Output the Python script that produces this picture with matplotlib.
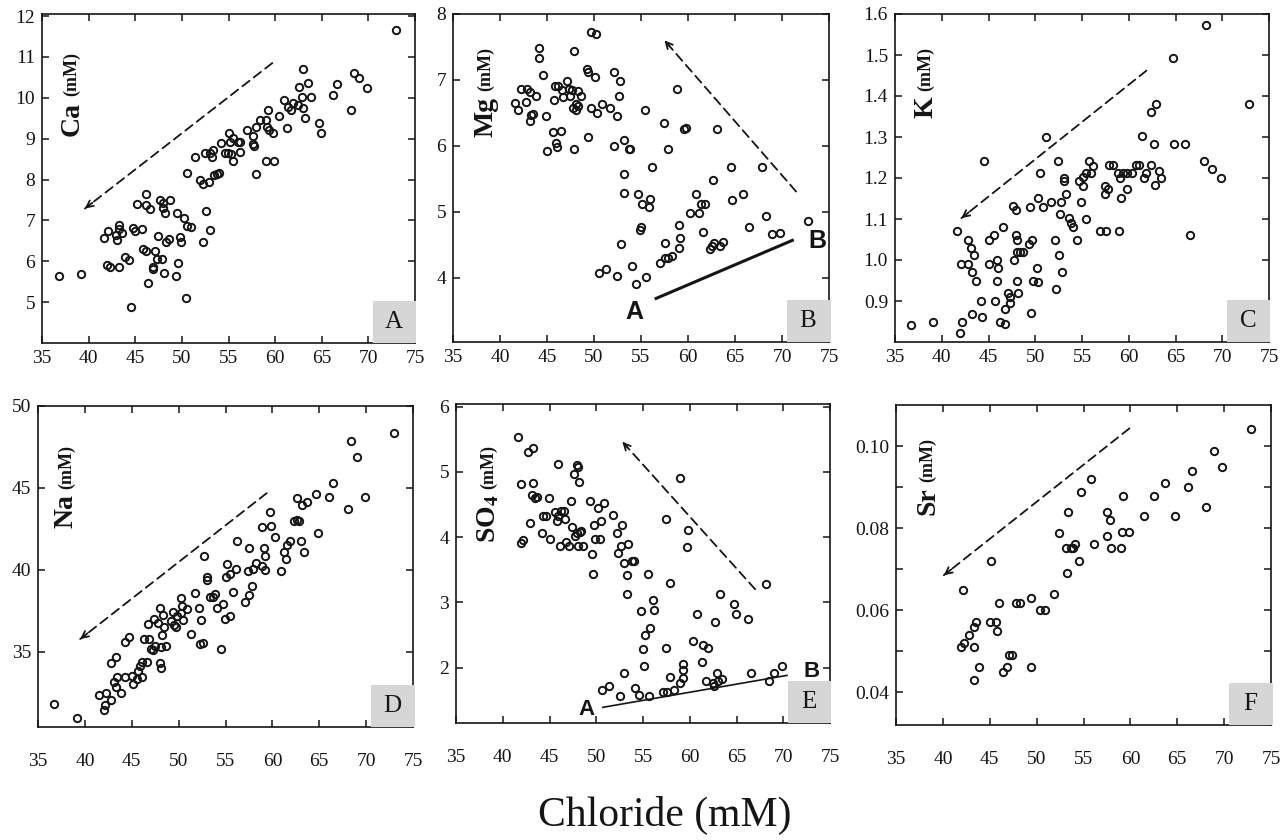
import matplotlib
matplotlib.use("Agg")
import matplotlib.pyplot as plt
from matplotlib.patches import Rectangle

plt.rcParams['font.family'] = ['Liberation Serif', 'DejaVu Serif']
plt.rcParams['mathtext.fontset'] = 'stix'

# ---------------- data ----------------
ca_cl = [36.8, 39.2, 41.7, 42.1, 42.9, 43.0, 43.3, 43.3, 43.6, 42.0, 42.3, 43.3, 43.9, 44.3, 44.5,
         44.75, 45.0, 45.2, 45.7, 45.8, 46.1, 46.2, 46.1, 46.6, 46.4, 46.9, 46.9, 47.1, 47.4, 47.3,
         47.9, 47.7, 48.0, 48.0, 48.2, 48.75, 48.1, 48.3, 48.6, 49.5, 49.6, 49.4, 49.8, 49.9, 50.25,
         50.5, 51.0, 50.4, 50.5, 51.4, 51.9, 52.25, 52.9, 52.3, 52.6, 53.0, 52.5, 53.0, 53.2, 53.3,
         53.4, 53.8, 54.0, 54.2, 54.6, 54.9, 55.0, 55.2, 55.25, 55.5, 55.5, 56.0, 56.2, 56.25, 57.0,
         57.6, 57.6, 57.7, 58.0, 58.0, 58.4, 59.0, 59.1, 59.2, 59.3, 59.0, 59.9, 59.8, 60.4, 60.9,
         61.25, 61.4, 61.7, 61.9, 62.4, 62.6, 62.85, 63.0, 63.0, 63.25, 63.5, 63.8, 64.75, 64.9, 66.2,
         66.6, 68.1, 68.5, 69.0, 69.9, 73.0]
ca = [5.64, 5.69, 6.56, 6.73, 6.65, 6.51, 6.89, 6.78, 6.69, 5.91, 5.87, 5.87, 6.10, 6.02, 4.88,
      6.81, 6.75, 7.40, 6.80, 6.30, 6.24, 7.64, 7.38, 7.27, 5.46, 5.87, 5.81, 6.24, 6.62, 6.05,
      6.05, 7.50, 7.42, 7.30, 7.17, 7.50, 5.71, 6.48, 6.54, 7.19, 5.95, 5.63, 6.59, 6.46, 7.05,
      6.87, 6.83, 5.10, 8.17, 8.56, 7.99, 7.88, 7.95, 6.48, 7.22, 6.77, 8.66, 8.66, 8.56, 8.72,
      8.10, 8.14, 8.15, 8.89, 8.64, 8.64, 9.15, 8.93, 8.63, 8.46, 9.01, 8.93, 8.93, 8.68, 9.21,
      9.07, 8.87, 8.82, 9.29, 8.14, 9.46, 9.46, 9.29, 9.70, 9.21, 8.46, 8.46, 9.13, 9.55, 9.95,
      9.25, 9.77, 9.70, 9.88, 9.82, 10.26, 10.03, 9.76, 10.70, 9.50, 10.35, 10.01, 9.38, 9.13, 10.07,
      10.33, 9.70, 10.61, 10.49, 10.25, 11.67]

mg_cl = [41.6, 41.9, 42.2, 42.8, 42.9, 43.2, 43.2, 43.3, 43.5, 43.8, 44.2, 44.15, 44.6, 44.9, 45.0,
         45.6, 45.7, 45.9, 46.0, 46.1, 46.45, 46.2, 46.6, 46.7, 47.1, 47.3, 47.4, 47.7, 47.8, 47.9,
         47.9, 48.1, 48.1, 48.3, 48.3, 48.65, 49.3, 49.4, 49.4, 49.7, 50.2, 49.7, 50.1, 50.3, 50.85,
         50.5, 51.3, 51.7, 52.1, 52.45, 52.7, 52.8, 52.1, 52.45, 52.9, 53.2, 53.15, 53.15, 53.7, 53.8,
         54.0, 54.5, 54.7, 55.1, 54.9, 55.0, 55.4, 55.5, 55.8, 56.0, 56.2, 57.0, 57.4, 57.5, 57.5,
         57.9, 57.9, 58.3, 58.8, 59.0, 59.1, 59.0, 59.6, 59.75, 60.2, 60.8, 61.2, 61.35, 61.8, 61.6,
         62.3, 62.6, 62.7, 62.8, 63.1, 63.4, 63.7, 64.6, 64.7, 65.9, 66.5, 67.9, 68.3, 68.9, 69.75,
         72.8]
mg = [6.65, 6.54, 6.87, 6.67, 6.87, 6.82, 6.38, 6.47, 6.49, 6.75, 7.48, 7.33, 7.07, 6.45, 5.93,
      6.21, 6.70, 6.91, 6.05, 5.99, 6.23, 6.91, 6.85, 6.74, 6.99, 6.86, 6.75, 6.85, 6.57, 7.44,
      5.95, 6.64, 6.54, 6.84, 6.60, 6.75, 7.17, 7.12, 6.14, 7.73, 7.70, 6.58, 7.04, 6.50, 6.63,
      4.08, 4.13, 6.58, 7.12, 6.45, 6.76, 6.99, 6.00, 4.03, 4.52, 6.09, 5.58, 5.29, 5.95, 5.95,
      4.18, 3.91, 5.27, 5.12, 4.73, 4.77, 6.54, 4.01, 5.07, 5.19, 5.68, 4.23, 6.35, 4.30, 4.53,
      5.95, 4.30, 4.33, 6.87, 4.46, 4.61, 4.81, 6.25, 6.28, 4.99, 5.27, 4.99, 5.12, 5.12, 4.70,
      4.44, 4.48, 5.48, 4.53, 6.25, 4.48, 4.54, 5.68, 5.18, 5.27, 4.77, 5.68, 4.94, 4.67, 4.68,
      4.87]

k_cl = [36.7, 39.1, 41.6, 42.0, 42.1, 42.2, 42.8, 42.8, 43.1, 43.2, 43.2, 43.45, 43.7, 44.2, 44.3,
        44.55, 45.0, 45.05, 45.6, 45.7, 45.9, 46.05, 45.9, 46.2, 46.5, 46.8, 46.8, 47.05, 47.3, 47.3,
        47.6, 47.7, 47.9, 47.9, 48.0, 48.1, 48.2, 48.0, 48.4, 48.7, 49.3, 49.4, 49.5, 49.7, 49.8,
        50.15, 50.3, 50.3, 50.5, 50.8, 51.2, 51.7, 52.1, 52.2, 52.4, 52.5, 52.7, 52.8, 52.9, 53.1,
        53.1, 53.25, 53.6, 53.8, 54.0, 54.5, 54.7, 54.9, 55.1, 55.1, 55.4, 55.4, 55.8, 56.0, 56.2,
        56.9, 57.5, 57.5, 57.6, 57.8, 57.9, 58.35, 58.8, 58.95, 59.1, 59.2, 59.35, 59.8, 59.8, 60.3,
        60.8, 61.1, 61.4, 61.6, 61.8, 62.4, 62.4, 62.7, 62.8, 62.9, 63.2, 63.4, 64.7, 64.8, 66.0,
        66.55, 68.05, 68.3, 68.9, 69.9, 72.9]
k = [0.842, 0.849, 1.070, 0.821, 0.991, 0.849, 0.991, 1.050, 1.030, 0.971, 0.869, 1.011, 0.950, 0.900, 0.860,
     1.241, 0.991, 1.050, 1.061, 0.900, 1.001, 0.981, 0.950, 0.849, 1.081, 0.880, 0.845, 0.920, 0.910, 0.896,
     1.131, 1.001, 1.121, 1.062, 0.950, 1.050, 0.920, 1.019, 1.019, 1.019, 1.038, 1.130, 0.870, 1.050, 0.950,
     0.981, 0.946, 1.151, 1.211, 1.130, 1.300, 1.141, 1.050, 0.930, 1.241, 1.011, 1.111, 1.141, 0.971, 1.200,
     1.192, 1.162, 1.103, 1.091, 1.080, 1.050, 1.192, 1.141, 1.181, 1.203, 1.101, 1.211, 1.242, 1.211, 1.230,
     1.070, 1.181, 1.162, 1.070, 1.172, 1.231, 1.231, 1.211, 1.070, 1.200, 1.151, 1.211, 1.172, 1.211, 1.211,
     1.231, 1.231, 1.302, 1.200, 1.212, 1.231, 1.362, 1.284, 1.184, 1.381, 1.216, 1.200, 1.492, 1.284, 1.284,
     1.061, 1.242, 1.572, 1.222, 1.200, 1.381]

na_cl = [36.7, 39.2, 41.55, 42.0, 42.1, 42.3, 42.8, 42.8, 43.3, 43.15, 43.3, 43.4, 43.8, 44.25, 44.3,
         44.7, 45.0, 45.1, 45.6, 45.7, 45.9, 46.1, 46.1, 46.3, 46.6, 46.8, 46.7, 47.1, 47.3, 47.4,
         47.5, 47.8, 48.0, 48.0, 48.1, 48.2, 48.35, 48.4, 48.1, 48.7, 49.2, 49.4, 49.5, 49.7, 49.8,
         50.2, 50.3, 50.4, 50.5, 50.9, 51.3, 51.7, 52.15, 52.3, 52.4, 52.6, 52.75, 53.05, 53.05, 53.3,
         53.7, 53.9, 54.1, 54.55, 54.75, 54.9, 55.0, 55.2, 55.5, 55.5, 55.8, 56.1, 56.2, 57.1, 57.4,
         57.5, 57.5, 57.85, 57.95, 58.3, 58.9, 58.9, 59.1, 59.2, 59.2, 59.7, 59.9, 60.3, 60.9, 61.2,
         61.4, 61.6, 61.9, 62.3, 62.6, 62.8, 62.65, 63.0, 63.2, 63.4, 63.7, 64.7, 64.9, 66.0, 66.5,
         68.1, 68.35, 69.0, 69.9, 72.97]
na = [31.83, 30.98, 32.34, 31.43, 31.73, 32.48, 32.04, 34.32, 34.68, 33.16, 32.85, 33.46, 32.48, 35.60, 33.46,
      35.87, 33.50, 33.05, 33.36, 33.83, 34.11, 34.38, 33.46, 35.80, 34.38, 35.80, 36.66, 35.19, 35.13, 36.97,
      35.34, 36.72, 37.64, 34.32, 34.03, 36.01, 37.23, 36.52, 35.30, 35.34, 36.88, 37.43, 36.62, 36.52, 37.17,
      37.37, 38.25, 37.78, 36.92, 37.58, 36.07, 38.59, 37.64, 35.46, 36.92, 35.50, 40.86, 39.53, 39.37, 38.35,
      38.31, 38.51, 37.64, 35.19, 37.90, 36.97, 39.57, 40.35, 39.74, 37.17, 38.66, 40.04, 41.77, 38.04, 39.94,
      41.30, 38.45, 39.00, 40.02, 40.43, 42.59, 40.22, 41.30, 40.84, 39.98, 43.50, 42.69, 41.98, 39.94, 41.10,
      40.63, 41.51, 41.77, 42.99, 43.03, 42.99, 44.36, 41.77, 43.95, 41.10, 44.15, 44.62, 42.22, 44.46, 45.27,
      43.69, 47.88, 46.90, 44.46, 48.33]

so4_cl = [41.6, 41.9, 42.2, 42.0, 42.7, 43.2, 42.9, 43.2, 43.1, 43.5, 43.7, 44.2, 44.3, 44.6, 44.9,
          45.05, 45.6, 45.8, 45.9, 45.9, 46.1, 46.2, 46.5, 46.65, 46.8, 47.1, 47.3, 47.4, 47.6, 47.7,
          47.9, 48.0, 48.0, 47.9, 48.2, 48.3, 48.4, 48.6, 49.3, 49.5, 49.6, 49.8, 49.9, 50.2, 50.4,
          50.5, 50.6, 50.8, 51.4, 51.8, 52.2, 52.3, 52.5, 52.7, 52.8, 53.0, 53.0, 53.3, 53.3, 53.4,
          53.8, 54.0, 54.1, 54.6, 54.8, 55.0, 55.1, 55.2, 55.5, 55.6, 55.8, 56.1, 56.2, 57.1, 57.5,
          57.6, 57.5, 57.9, 57.9, 58.3, 58.95, 59.0, 59.25, 59.3, 59.3, 59.7, 59.8, 60.4, 60.8, 61.3,
          61.45, 61.7, 61.9, 62.45, 62.6, 62.75, 62.95, 63.05, 63.2, 63.5, 64.7, 64.9, 66.2, 66.6, 68.2,
          68.5, 69.05, 69.9]
so4 = [5.53, 3.91, 3.95, 4.81, 5.31, 5.37, 4.22, 4.83, 4.65, 4.60, 4.62, 4.07, 4.32, 4.32, 4.60,
       3.97, 4.39, 4.24, 5.12, 4.32, 3.86, 4.40, 4.40, 4.27, 3.92, 3.86, 4.56, 4.16, 4.96, 4.01,
       5.11, 5.07, 3.86, 4.07, 4.85, 4.08, 4.10, 3.86, 4.56, 3.74, 3.44, 4.18, 3.97, 4.44, 3.97,
       4.25, 1.66, 4.52, 1.72, 4.34, 4.07, 3.76, 1.57, 3.86, 4.18, 3.61, 1.91, 3.42, 3.13, 3.89,
       3.64, 3.64, 1.68, 1.58, 2.87, 2.28, 2.03, 2.50, 3.44, 1.57, 2.60, 3.03, 2.88, 1.62, 4.27,
       1.63, 2.30, 1.85, 3.30, 1.66, 4.91, 1.76, 1.96, 2.06, 1.84, 3.85, 4.11, 2.40, 2.82, 2.08,
       2.34, 1.79, 2.30, 1.76, 1.72, 2.70, 1.91, 1.79, 3.13, 1.82, 2.97, 2.82, 2.74, 1.91, 3.28,
       1.79, 1.91, 2.02]

sr_cl = [42.1, 41.9, 42.2, 42.8, 43.3, 43.3, 43.5, 43.35, 43.8, 45.0, 45.1, 45.7, 45.75, 46.0, 46.4,
         46.85, 47.1, 47.4, 47.8, 48.2, 49.4, 49.4, 50.4, 50.9, 51.8, 52.4, 53.15, 53.2, 53.3, 53.7,
         53.9, 54.1, 54.5, 54.75, 55.8, 56.1, 57.5, 57.5, 57.85, 57.95, 58.95, 59.1, 59.2, 59.8, 61.4,
         62.5, 63.7, 64.8, 66.1, 66.6, 68.1, 68.9, 69.8, 72.9]
sr = [0.0649, 0.0511, 0.0519, 0.0540, 0.0560, 0.0511, 0.0570, 0.0430, 0.0461, 0.0570, 0.0720, 0.0570, 0.0550, 0.0618, 0.0449,
      0.0461, 0.0491, 0.0491, 0.0618, 0.0618, 0.0629, 0.0461, 0.0600, 0.0600, 0.0639, 0.0789, 0.0751, 0.0691, 0.0840, 0.0751,
      0.0751, 0.0760, 0.0720, 0.0889, 0.0920, 0.0760, 0.0781, 0.0840, 0.0820, 0.0751, 0.0751, 0.0790, 0.0879, 0.0790, 0.0829,
      0.0879, 0.0909, 0.0829, 0.0899, 0.0940, 0.0851, 0.0989, 0.0950, 0.1041]

panel_letters = ["A", "B", "C", "D", "E", "F"]
species = ["Ca", "Mg", "K", "Na", "SO$_\\mathbf{4}$", "Sr"]
x_ticks = [35, 40, 45, 50, 55, 60, 65, 70, 75]
y_ticks = [[5, 6, 7, 8, 9, 10, 11, 12], [4, 5, 6, 7, 8], [0.9, 1.0, 1.1, 1.2, 1.3, 1.4, 1.5, 1.6],
           [35, 40, 45, 50], [2, 3, 4, 5, 6], [0.04, 0.05, 0.06, 0.07, 0.08, 0.09, 0.10]]
y_tick_labels = [["5", "6", "7", "8", "9", "10", "11", "12"], ["4", "5", "6", "7", "8"],
                 ["0.9", "1.0", "1.1", "1.2", "1.3", "1.4", "1.5", "1.6"],
                 ["35", "40", "45", "50"], ["2", "3", "4", "5", "6"],
                 ["0.04", "", "0.06", "", "0.08", "", "0.10"]]
y_limits = [(4.0, 12.05), (3.03, 8.0), (0.8, 1.6), (30.4, 50.0), (1.15, 6.04), (0.032, 0.110)]

# trend arrows (start -> end) and mixing lines (A -> B)
trend_arrows = [((59.7, 10.85), (39.6, 7.29)), ((71.5, 5.31), (57.5, 7.6)), ((61.9, 1.462), (42.1, 1.102)),
                ((59.4, 44.68), (39.5, 35.77)), ((67.0, 3.2), (52.8, 5.46)), ((59.9, 0.1043), (40.1, 0.0685))]
mix_lines = {1: ((56.6, 3.69), (71.1, 4.57)), 4: ((50.7, 1.39), (70.4, 1.88))}
mix_labels = {1: ((54.3, 3.48), (73.8, 4.56)), 4: ((49.0, 1.35), (73.0, 1.94))}

# ---------------- layout ----------------
W, H = 1283, 840
boxes_px = [(42, 14, 415, 343), (453, 14, 829, 342), (895, 14, 1269, 342),
            (38, 406, 413, 727), (456, 404, 830, 723), (896, 405, 1271, 725)]
ylab_pos = [(0.080, 0.63), (0.088, 0.625), (0.083, 0.683), (0.075, 0.62), (0.086, 0.564), (0.085, 0.656)]

fig = plt.figure(figsize=(W / 100, H / 100), dpi=100)
xs = [ca_cl, mg_cl, k_cl, na_cl, so4_cl, sr_cl]
ys = [ca, mg, k, na, so4, sr]
ink = '#151515'

for i in range(6):
    l, t, r, b = boxes_px[i]
    ax = fig.add_axes([l / W, 1 - b / H, (r - l) / W, (b - t) / H])
    ax.plot(xs[i], ys[i], 'o', ms=5.3, mfc='none', mec=ink, mew=1.4, zorder=3)
    ax.set_xlim(35, 75)
    ax.set_ylim(*y_limits[i])
    ax.set_xticks(x_ticks)
    ax.set_xticklabels([str(v) for v in x_ticks])
    ax.set_yticks(y_ticks[i])
    ax.set_yticklabels(y_tick_labels[i])
    ax.tick_params(direction='in', length=5, width=1.1, top=True, right=True,
                   labelsize=14, pad=5, colors=ink)
    if i >= 3:
        ax.tick_params(axis='x', pad=19)
    for s in ax.spines.values():
        s.set_linewidth(1.2)
        s.set_color(ink)
    # y label inside the axes
    t1 = ax.text(ylab_pos[i][0], ylab_pos[i][1], species[i], transform=ax.transAxes,
                 rotation=90, ha='center', va='bottom', fontsize=20, fontweight='bold', color=ink)
    ax.annotate("(mM)", xy=(0.5, 1.0), xycoords=t1, xytext=(0, 4), textcoords='offset points',
                rotation=90, ha='center', va='bottom', fontsize=13, fontweight='bold', color=ink)
    # panel letter box
    bw, bh = 42 / (r - l), 42 / (b - t)
    ax.add_patch(Rectangle((1 - bw, 0), bw + 0.004, bh, transform=ax.transAxes, facecolor='#d6d6d6',
                           edgecolor='none', zorder=5, clip_on=False))
    ax.text(1 - bw / 2, bh / 2, panel_letters[i], transform=ax.transAxes, ha='center', va='center',
            fontsize=18, color=ink, zorder=6)
    # dashed trend arrow
    (x0, y0), (x1, y1) = trend_arrows[i]
    ax.annotate("", xy=(x1, y1), xytext=(x0, y0),
                arrowprops=dict(arrowstyle='-', linestyle=(0, (5, 3)), lw=1.3, color=ink,
                                shrinkA=0, shrinkB=0))
    fx = x1 + (x0 - x1) * 0.04
    fy = y1 + (y0 - y1) * 0.04
    ax.annotate("", xy=(x1, y1), xytext=(fx, fy),
                arrowprops=dict(arrowstyle='->', lw=1.3, color=ink, shrinkA=0, shrinkB=0,
                                mutation_scale=12))
    if i in mix_lines:
        (a0, b0), (a1, b1) = mix_lines[i]
        ax.plot([a0, a1], [b0, b1], '-', color=ink, lw=2.2 if i == 1 else 1.2)
        (la, lb), (ra, rb) = mix_labels[i]
        fsz = 18 if i == 1 else 16
        ax.text(la, lb, "A", fontsize=fsz, fontweight='bold', family='Liberation Sans',
                ha='center', va='center', color=ink)
        ax.text(ra, rb, "B", fontsize=fsz, fontweight='bold', family='Liberation Sans',
                ha='center', va='center', color=ink)

fig.text(0.518, 1 - 826 / H, "Chloride (mM)", ha='center', va='baseline', fontsize=30, color=ink)
fig.savefig("out.png", dpi=100, facecolor='white')
